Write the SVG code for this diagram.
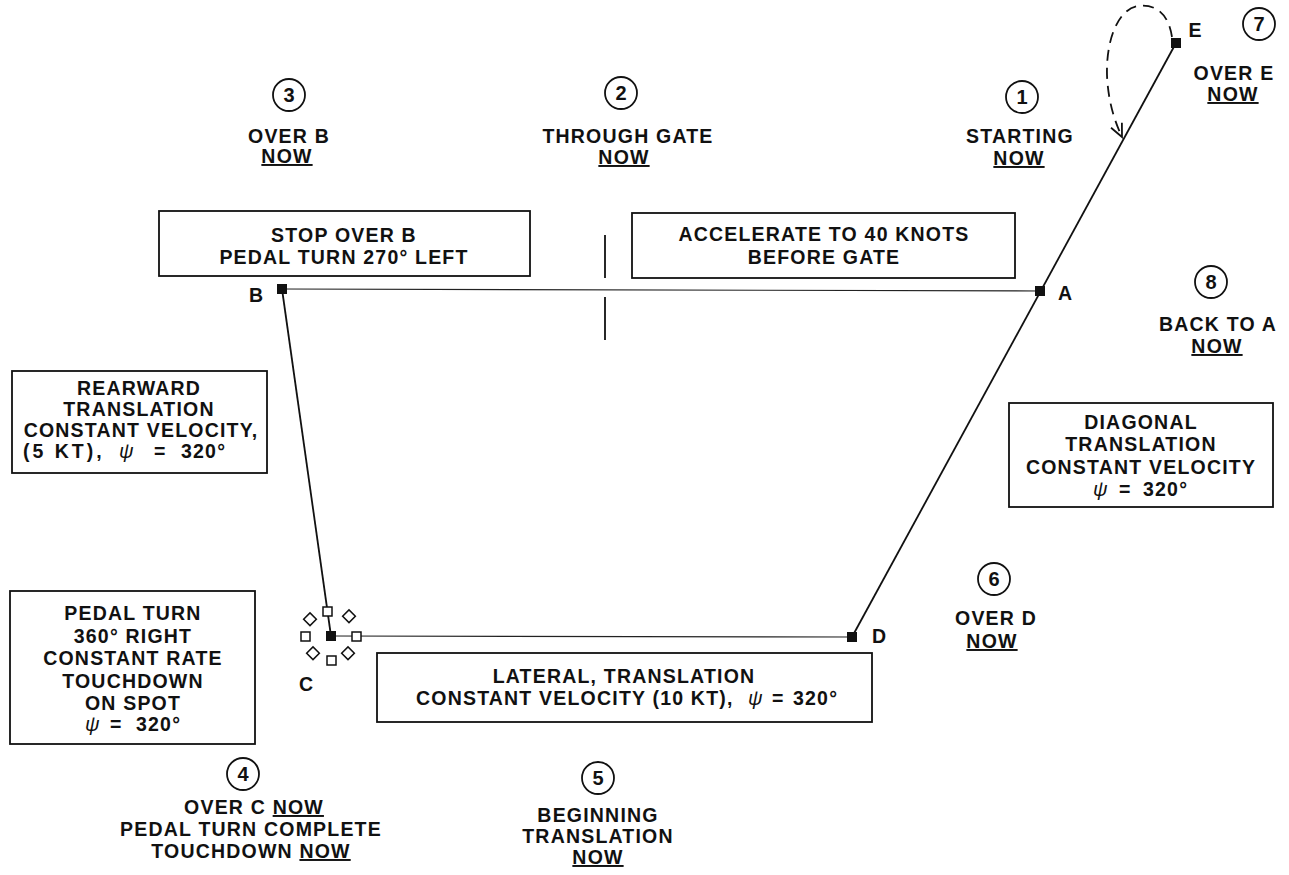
<svg xmlns="http://www.w3.org/2000/svg" width="1289" height="875" viewBox="0 0 1289 875">
<defs>
<style>
text{font-family:"Liberation Sans",Arial,Helvetica,sans-serif;font-weight:bold;font-size:19.5px;fill:#111;text-anchor:middle;letter-spacing:1.2px}
.box{fill:#fff;stroke:#111;stroke-width:1.8}
.circ{fill:none;stroke:#111;stroke-width:1.8}
.num{font-size:20px;letter-spacing:0}
.lbl{letter-spacing:0}
.st{text-anchor:start}
.wide{letter-spacing:3px}
.pt{fill:#111}
.ln{stroke:#111;stroke-width:1.8;fill:none}
.thin{stroke:#222;stroke-width:1.2;fill:none}
.u{text-decoration:underline}
.psi{font-style:italic;font-weight:normal;font-size:20px}
.open{fill:#fff;stroke:#111;stroke-width:1.5}
.dash{stroke:#111;stroke-width:1.8;fill:none;stroke-dasharray:11 7}
</style>
<marker id="arr" viewBox="0 0 16 16" markerWidth="16" markerHeight="16" refX="14" refY="8" orient="auto" markerUnits="userSpaceOnUse">
<path d="M1,2 L14,8 L1,14" fill="none" stroke="#111" stroke-width="1.8" stroke-dasharray="none"/>
</marker>
</defs>
<rect width="1289" height="875" fill="#fff"/>

<g id="connectors">
<line class="thin" x1="282" y1="289" x2="1040" y2="291"/>
<line class="ln" x1="282" y1="289" x2="331" y2="636"/>
<line class="thin" x1="331" y1="636" x2="852" y2="637"/>
<line class="ln" x1="1176" y1="43" x2="852" y2="637"/>
<path class="dash" d="M1172,37 C1168,10 1152,4 1138,6 C1118,9 1106,40 1107,75 C1108,100 1114,120 1122,137" marker-end="url(#arr)"/>
<line class="ln" x1="605" y1="235" x2="605" y2="278" stroke-width="2"/>
<line class="ln" x1="605" y1="297" x2="605" y2="340" stroke-width="2"/>
</g>

<g id="pointA"><rect class="pt" x="1035" y="286" width="10" height="10"/><text class="lbl" x="1065" y="300">A</text></g>
<g id="pointB"><rect class="pt" x="277" y="284" width="10" height="10"/><text class="lbl" x="256" y="302">B</text></g>
<g id="pointC">
<g class="open">
<rect x="323" y="607" width="9" height="9"/>
<rect x="352" y="632" width="9" height="9"/>
<rect x="327" y="656" width="9" height="9"/>
<rect x="301" y="632" width="9" height="9"/>
<rect x="305" y="615" width="9" height="9" transform="rotate(45 310 620)"/>
<rect x="344" y="612" width="9" height="9" transform="rotate(45 349 617)"/>
<rect x="308" y="649" width="9" height="9" transform="rotate(45 313 654)"/>
<rect x="343" y="649" width="9" height="9" transform="rotate(45 348 654)"/>
</g>
<rect class="pt" x="326" y="631" width="10" height="10"/>
<text class="lbl" x="306" y="691">C</text>
</g>
<g id="pointD"><rect class="pt" x="847" y="632" width="10" height="10"/><text class="lbl" x="879" y="643">D</text></g>
<g id="pointE"><rect class="pt" x="1171" y="38" width="10" height="10"/><text class="lbl" x="1195" y="37">E</text></g>

<g id="box-stop"><rect class="box" x="159" y="211" width="371" height="65"/>
<text x="344" y="242">STOP OVER B</text><text x="344" y="264">PEDAL TURN 270° LEFT</text></g>
<g id="box-accel"><rect class="box" x="632" y="213" width="383" height="65"/>
<text x="824" y="241">ACCELERATE TO 40 KNOTS</text><text x="824" y="264">BEFORE GATE</text></g>
<g id="box-rear"><rect class="box" x="12" y="371" width="255" height="102"/>
<text x="139" y="395">REARWARD</text><text x="139" y="416">TRANSLATION</text><text x="141" y="437">CONSTANT VELOCITY,</text>
<text class="st" y="458"><tspan x="23" class="wide">(5 KT),</tspan><tspan x="119" class="psi">ψ</tspan><tspan x="154">=</tspan><tspan x="181">320°</tspan></text></g>
<g id="box-pedal"><rect class="box" x="10" y="591" width="245" height="153"/>
<text x="133" y="620">PEDAL TURN</text><text x="133" y="643">360° RIGHT</text><text x="133" y="665">CONSTANT RATE</text><text x="133" y="688">TOUCHDOWN</text><text x="133" y="710">ON SPOT</text>
<text class="st" y="731"><tspan x="85" class="psi">ψ</tspan><tspan x="110">=</tspan><tspan x="136">320°</tspan></text></g>
<g id="box-diag"><rect class="box" x="1009" y="403" width="264" height="104"/>
<text x="1141" y="429">DIAGONAL</text><text x="1141" y="451">TRANSLATION</text><text x="1141" y="474">CONSTANT VELOCITY</text>
<text class="st" y="496"><tspan x="1093" class="psi">ψ</tspan><tspan x="1119">=</tspan><tspan x="1143">320°</tspan></text></g>
<g id="box-lat"><rect class="box" x="377" y="653" width="495" height="69"/>
<text x="624" y="683">LATERAL, TRANSLATION</text>
<text class="st" y="705"><tspan x="416">CONSTANT VELOCITY (10 KT),</tspan><tspan x="748" class="psi">ψ</tspan><tspan x="772">=</tspan><tspan x="793">320°</tspan></text></g>

<g id="step1"><circle class="circ" cx="1022" cy="97" r="16"/><text class="num" x="1022" y="104">1</text>
<text x="1020" y="143">STARTING</text><text x="1019" y="165" class="u">NOW</text></g>
<g id="step2"><circle class="circ" cx="621" cy="93" r="16"/><text class="num" x="621" y="100">2</text>
<text x="628" y="143">THROUGH GATE</text><text x="624" y="164" class="u">NOW</text></g>
<g id="step3"><circle class="circ" cx="289" cy="95" r="16"/><text class="num" x="289" y="102">3</text>
<text x="289" y="143">OVER B</text><text x="287" y="163" class="u">NOW</text></g>
<g id="step4"><circle class="circ" cx="243" cy="774" r="16"/><text class="num" x="243" y="781">4</text>
<text x="254" y="814">OVER C <tspan class="u">NOW</tspan></text><text x="251" y="836">PEDAL TURN COMPLETE</text><text x="251" y="858">TOUCHDOWN <tspan class="u">NOW</tspan></text></g>
<g id="step5"><circle class="circ" cx="598" cy="778" r="16"/><text class="num" x="598" y="785">5</text>
<text x="598" y="822">BEGINNING</text><text x="598" y="843">TRANSLATION</text><text x="598" y="864" class="u">NOW</text></g>
<g id="step6"><circle class="circ" cx="994" cy="579" r="16"/><text class="num" x="994" y="586">6</text>
<text x="996" y="625">OVER D</text><text x="992" y="648" class="u">NOW</text></g>
<g id="step7"><circle class="circ" cx="1259" cy="24" r="16"/><text class="num" x="1259" y="31">7</text>
<text x="1234" y="80">OVER E</text><text x="1233" y="101" class="u">NOW</text></g>
<g id="step8"><circle class="circ" cx="1211" cy="282" r="16"/><text class="num" x="1211" y="289">8</text>
<text x="1218" y="331">BACK TO A</text><text x="1217" y="353" class="u">NOW</text></g>
</svg>
